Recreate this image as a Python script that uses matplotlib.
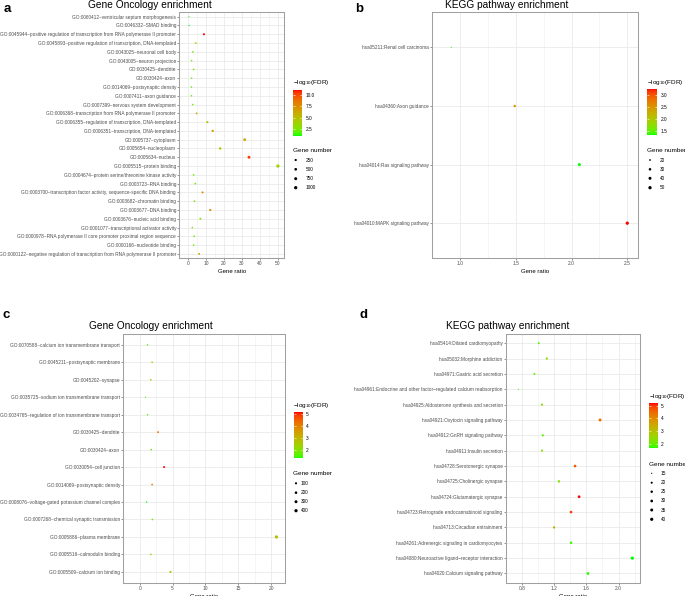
import numpy as np
import matplotlib
matplotlib.use("Agg")
import matplotlib.pyplot as plt
from matplotlib.colors import ListedColormap, Normalize
from matplotlib.cm import ScalarMappable

plt.rcParams['font.family'] = ['Liberation Sans', 'DejaVu Sans']
plt.rcParams['mathtext.default'] = 'regular'

# ---------------- data (rows listed top to bottom) ----------------
# a: GO enrichment
a_terms = [
    "GO:0060412~ventricular septum morphogenesis",
    "GO:0046332~SMAD binding",
    "GO:0045944~positive regulation of transcription from RNA polymerase II promoter",
    "GO:0045893~positive regulation of transcription, DNA-templated",
    "GO:0043025~neuronal cell body",
    "GO:0043005~neuron projection",
    "GO:0030425~dendrite",
    "GO:0030424~axon",
    "GO:0014069~postsynaptic density",
    "GO:0007411~axon guidance",
    "GO:0007399~nervous system development",
    "GO:0006368~transcription from RNA polymerase II promoter",
    "GO:0006355~regulation of transcription, DNA-templated",
    "GO:0006351~transcription, DNA-templated",
    "GO:0005737~cytoplasm",
    "GO:0005654~nucleoplasm",
    "GO:0005634~nucleus",
    "GO:0005515~protein binding",
    "GO:0004674~protein serine/threonine kinase activity",
    "GO:0003723~RNA binding",
    "GO:0003700~transcription factor activity, sequence-specific DNA binding",
    "GO:0003682~chromatin binding",
    "GO:0003677~DNA binding",
    "GO:0003676~nucleic acid binding",
    "GO:0001077~transcriptional activator activity",
    "GO:0000978~RNA polymerase II core promoter proximal region sequence",
    "GO:0000166~nucleotide binding",
    "GO:0000122~negative regulation of transcription from RNA polymerase II promoter",
]
a_ratio = [0.4, 0.5, 8.8, 4.2, 2.6, 1.9, 3.0, 1.9, 1.8, 1.8, 2.5, 4.7, 10.7, 13.7,
           31.6, 17.9, 34.0, 50.2, 3.0, 4.0, 8.0, 3.5, 12.3, 6.8, 2.3, 3.3, 3.0, 6.1]
a_count = [8, 10, 176, 84, 52, 38, 60, 38, 36, 36, 50, 94, 214, 274,
           632, 358, 680, 1004, 60, 80, 160, 70, 246, 136, 46, 66, 60, 122]
a_fdr = [1.2, 1.1, 11.1, 3.8, 2.3, 2.0, 2.5, 2.0, 1.8, 1.9, 2.4, 6.0, 4.5, 6.6,
         6.2, 4.4, 10.4, 4.0, 2.4, 2.6, 7.6, 3.4, 7.4, 2.9, 3.0, 2.5, 2.4, 6.0]
a_xticks = [0, 10, 20, 30, 40, 50]
a_cticks = [2.5, 5.0, 7.5, 10.0]
a_keys = [250, 500, 750, 1000]

# b: KEGG enrichment
b_terms = ["hsa05211:Renal cell carcinoma", "hsa04360:Axon guidance",
           "hsa04014:Ras signaling pathway", "hsa04010:MAPK signaling pathway"]
b_ratio = [0.92, 1.49, 2.07, 2.50]
b_count = [18, 29, 40, 48]
b_fdr = [1.40, 2.45, 1.32, 3.25]
b_xticks = [1.0, 1.5, 2.0, 2.5]
b_cticks = [1.5, 2.0, 2.5, 3.0]
b_keys = [20, 30, 40, 50]

# c: GO enrichment
c_terms = [
    "GO:0070588~calcium ion transmembrane transport",
    "GO:0045211~postsynaptic membrane",
    "GO:0045202~synapse",
    "GO:0035725~sodium ion transmembrane transport",
    "GO:0034765~regulation of ion transmembrane transport",
    "GO:0030425~dendrite",
    "GO:0030424~axon",
    "GO:0030054~cell junction",
    "GO:0014069~postsynaptic density",
    "GO:0008076~voltage-gated potassium channel complex",
    "GO:0007268~chemical synaptic transmission",
    "GO:0005886~plasma membrane",
    "GO:0005516~calmodulin binding",
    "GO:0005509~calcium ion binding",
]
c_ratio = [1.19, 1.88, 1.69, 0.87, 1.19, 2.79, 1.74, 3.71, 1.88, 1.05, 1.92, 20.8, 1.69, 4.67]
c_count = [24, 38, 34, 17, 24, 56, 35, 74, 38, 21, 38, 416, 34, 93]
c_fdr = [1.6, 2.2, 2.3, 1.5, 1.6, 4.2, 1.7, 5.1, 4.0, 1.35, 2.0, 2.8, 2.1, 2.4]
c_xticks = [0, 5, 10, 15, 20]
c_cticks = [2, 3, 4, 5]
c_keys = [100, 200, 300, 400]

# d: KEGG enrichment
d_terms = [
    "hsa05414:Dilated cardiomyopathy",
    "hsa05032:Morphine addiction",
    "hsa04971:Gastric acid secretion",
    "hsa04961:Endocrine and other factor\u2212regulated calcium reabsorption",
    "hsa04925:Aldosterone synthesis and secretion",
    "hsa04921:Oxytocin signaling pathway",
    "hsa04912:GnRH signaling pathway",
    "hsa04911:Insulin secretion",
    "hsa04728:Serotonergic synapse",
    "hsa04725:Cholinergic synapse",
    "hsa04724:Glutamatergic synapse",
    "hsa04723:Retrograde endocannabinoid signaling",
    "hsa04713:Circadian entrainment",
    "hsa04261:Adrenergic signaling in cardiomyocytes",
    "hsa04080:Neuroactive ligand\u2212receptor interaction",
    "hsa04020:Calcium signaling pathway",
]
d_ratio = [1.01, 1.11, 0.956, 0.758, 1.05, 1.77, 1.06, 1.05, 1.46, 1.26, 1.51, 1.41, 1.20, 1.41, 2.17, 1.62]
d_count = [20, 22, 19, 15, 21, 35, 21, 21, 29, 25, 30, 28, 24, 28, 43, 32]
d_fdr = [1.9, 2.3, 2.0, 1.8, 2.4, 4.4, 1.9, 2.3, 4.7, 2.3, 5.2, 5.0, 3.2, 1.8, 1.63, 1.7]
d_xticks = [0.8, 1.2, 1.6, 2.0]
d_cticks = [2, 3, 4, 5]
d_keys = [15, 20, 25, 30, 35, 40]

W, H = 685, 596


# green -> red gradient interpolated in CIE Lab, like ggplot's scale_colour_gradient
M = np.array([[0.4124, 0.3576, 0.1805], [0.2126, 0.7152, 0.0722], [0.0193, 0.1192, 0.9505]])
WHITE = np.array([0.95047, 1.0, 1.08883])


def to_lab(rgb):
    rgb = np.asarray(rgb, float)
    lin = np.where(rgb <= 0.04045, rgb / 12.92, ((rgb + 0.055) / 1.055) ** 2.4)
    xyz = M @ lin / WHITE
    f = np.where(xyz > (6 / 29) ** 3, np.cbrt(xyz), xyz / (3 * (6 / 29) ** 2) + 4 / 29)
    return np.array([116 * f[1] - 16, 500 * (f[0] - f[1]), 200 * (f[1] - f[2])])


def from_lab(lab):
    fy = (lab[0] + 16) / 116
    f = np.array([fy + lab[1] / 500, fy, fy - lab[2] / 200])
    xyz = np.where(f > 6 / 29, f ** 3, 3 * (6 / 29) ** 2 * (f - 4 / 29)) * WHITE
    lin = np.clip(np.linalg.inv(M) @ xyz, 0, 1)
    return np.clip(np.where(lin <= 0.0031308, 12.92 * lin, 1.055 * lin ** (1 / 2.4) - 0.055), 0, 1)


lo, hi = to_lab([0, 1, 0]), to_lab([1, 0, 0])
cmap = ListedColormap([from_lab(lo + (hi - lo) * t) for t in np.linspace(0, 1, 256)])


def diam(n, nmin, nmax, dmin=1.2, dmax=3.3):
    # ggplot area palette: diameter ~ sqrt of rescaled value (pixels)
    t = np.clip((np.asarray(n, float) - nmin) / (nmax - nmin), 0, 1)
    return dmin + (dmax - dmin) * np.sqrt(t)


def px2s(d):
    return (np.asarray(d) * 72 / 100) ** 2


fig = plt.figure(figsize=(W / 100, H / 100), dpi=100)


def rect(l, r, t, b):
    return [l / W, 1 - b / H, (r - l) / W, (b - t) / H]


def panel(box, terms, ratio, count, fdr, xticks, xlim, fmt, pad):
    ax = fig.add_axes(rect(*box))
    n = len(terms)
    y = np.arange(n)
    d = diam(count, min(count), max(count))
    ax.scatter(ratio, y, s=px2s(d), c=fdr, cmap=cmap, vmin=min(fdr), vmax=max(fdr),
               linewidths=0, zorder=3)
    ax.set_ylim(n - 1 + pad, -pad)
    ax.set_xlim(*xlim)
    ax.set_yticks(y)
    ax.set_yticklabels(terms, fontsize=3.4, color='#4d4d4d')
    ax.set_xticks(xticks)
    ax.set_xticklabels([fmt.format(v) for v in xticks], fontsize=3.5, color='#4d4d4d')
    step = xticks[1] - xticks[0]
    ax.set_xticks(np.arange(xticks[0] - step / 2, xlim[1], step), minor=True)
    ax.grid(which='major', color='#E8E8E8', lw=0.55)
    ax.grid(which='minor', axis='x', color='#EEEEEE', lw=0.4)
    ax.set_axisbelow(True)
    for sp in ax.spines.values():
        sp.set_color('#A0A0A0')
        sp.set_linewidth(0.75)
    ax.tick_params(which='major', length=1.3, width=0.4, color='#444444', pad=1)
    ax.tick_params(which='minor', length=0)
    ax.set_xlabel('Gene ratio', fontsize=4.3, labelpad=2)
    return ax, d


def colorbar(box, vmin, vmax, ticks, fmt):
    cax = fig.add_axes(rect(*box))
    cb = fig.colorbar(ScalarMappable(Normalize(vmin, vmax), cmap), cax=cax)
    cb.outline.set_visible(False)
    cb.set_ticks(ticks)
    cb.set_ticklabels([fmt.format(v) for v in ticks])
    cax.tick_params(left=True, right=True, labelleft=False, labelright=True, length=1.5,
                    width=0.4, color='white', direction='in', labelsize=3.4, pad=2.5)


panel((179.3, 284, 12.3, 258.3), a_terms, a_ratio, a_count, a_fdr, a_xticks, (-1.5, 53.6), '{:g}', 0.5)
panel((432.3, 638.3, 12.3, 258.3), b_terms, b_ratio, b_count, b_fdr, b_xticks, (0.843, 2.599), '{:.1f}', 0.6)
panel((123.3, 285, 334, 582.7), c_terms, c_ratio, c_count, c_fdr, c_xticks, (-0.1, 22.1), '{:g}', 0.62)
panel((505.7, 640, 334, 582.7), d_terms, d_ratio, d_count, d_fdr, d_xticks, (0.70, 2.265), '{:.1f}', 0.6)

colorbar((292.7, 302, 90, 135.7), min(a_fdr), max(a_fdr), a_cticks, '{:.1f}')
colorbar((647.3, 657, 89, 135), min(b_fdr), max(b_fdr), b_cticks, '{:.1f}')
colorbar((294, 302.7, 412.3, 458.3), min(c_fdr), max(c_fdr), c_cticks, '{:g}')
colorbar((649.3, 657.7, 403.3, 448.3), min(d_fdr), max(d_fdr), d_cticks, '{:g}')

# overlay in pixel coordinates for titles and legends
ov = fig.add_axes([0, 0, 1, 1])
ov.set_xlim(0, W)
ov.set_ylim(H, 0)
ov.axis('off')

for lab, x, y in [('a', 4, 11.5), ('b', 355, 11.5), ('c', 3, 317.5), ('d', 360, 317.5)]:
    ov.text(x, y, lab, fontsize=9.5, fontweight='bold', va='baseline')
for t, x, y in [('Gene Oncology enrichment', 150, 7.5), ('KEGG pathway enrichment', 507, 7.5),
                ('Gene Oncology enrichment', 150.5, 328.7), ('KEGG pathway enrichment', 508, 328.7)]:
    ov.text(x, y, t, fontsize=7.3, ha='center', va='baseline')

legends = [
    (292.7, 82.3, 150, 295.7, 305.3, [160, 169.3, 178.7, 187.7], a_keys, a_count),
    (647.3, 82.3, 150.7, 650, 660, [160, 169.3, 178.3, 187.7], b_keys, b_count),
    (293.5, 406, 473.3, 296, 301, [483.3, 492.7, 501.7, 510.7], c_keys, c_count),
    (649, 396.3, 464, 651.7, 661, [473.3, 482.7, 491.7, 501, 510, 519.3], d_keys, d_count),
]
for x0, ty, gy, mx, lx, ys, keys, cnt in legends:
    ov.text(x0, ty, '\u2212log$_{10}$(FDR)', fontsize=4.6, va='center')
    ov.text(x0, gy, 'Gene number', fontsize=4.6, va='center')
    kd = diam(keys, min(cnt), max(cnt))
    ov.scatter([mx] * len(keys), ys, s=px2s(kd), color='black', linewidths=0)
    for k, yy in zip(keys, ys):
        ov.text(lx, yy, str(k), fontsize=3.4, va='center')

fig.savefig('out.png', dpi=100)
